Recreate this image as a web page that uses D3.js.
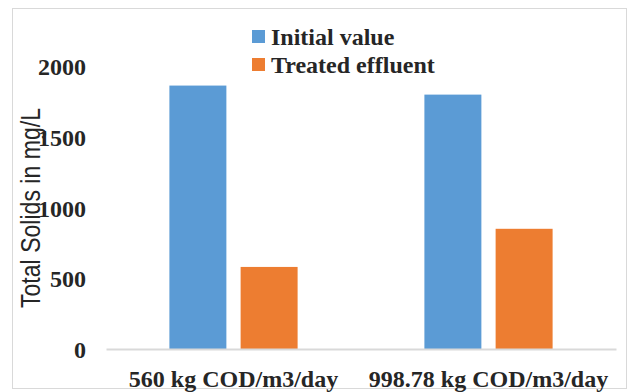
<!DOCTYPE html>
<html>
<head>
<meta charset="utf-8">
<script src="https://cdn.jsdelivr.net/npm/d3@7"></script>
<style>
  html, body { margin: 0; padding: 0; background: #fff; }
  svg { display: block; }
</style>
</head>
<body>
<svg id="chart" width="629" height="392"></svg>
<script>
// Loading rates compared
const categories = ["560 kg COD/m3/day", "998.78 kg COD/m3/day"];
// Total solids (mg/L) per series
const seriesNames = ["Initial value", "Treated effluent"];
const initialValue = [1865, 1801];
const treatedEffluent = [581, 851];
const yTicks = [0, 500, 1000, 1500, 2000];
const colors = ["#5B9BD5", "#ED7D31"];

const seriesValues = [initialValue, treatedEffluent];
const SERIF = '"Liberation Serif"';
const SANS = '"Liberation Sans"';

const svg = d3.select("#chart");
const W = 629, H = 392;

// outer frame
svg.append("rect")
  .attr("x", 12.5).attr("y", 8.5)
  .attr("width", W - 15).attr("height", H - 12)
  .attr("fill", "#fff").attr("stroke", "#d9d9d9").attr("stroke-width", 1);

const plot = { left: 106, right: 616, top: 66.5, bottom: 349 };

const y = d3.scaleLinear().domain([0, 2000]).range([plot.bottom, plot.top]);
const x0 = d3.scaleBand().domain(categories).range([plot.left, plot.right]).padding(0);
const x1 = d3.scaleBand().domain(seriesNames).range([0, x0.bandwidth()])
  .paddingInner(0.2).paddingOuter(0.89);

// y axis labels
const yAxis = d3.axisLeft(y).tickValues(yTicks).tickSize(0).tickPadding(0).tickFormat(d3.format("d"));
const gy = svg.append("g").attr("transform", "translate(86,0)").call(yAxis);
gy.select(".domain").remove();
gy.selectAll("text")
  .style("font-family", SERIF)
  .style("font-weight", "bold")
  .style("font-size", "24px")
  .attr("fill", "#262626")
  .attr("dy", "0.35em");

// bars
categories.forEach((c, i) => {
  seriesNames.forEach((s, j) => {
    const v = seriesValues[j][i];
    svg.append("rect")
      .attr("x", x0(c) + x1(s))
      .attr("y", y(v))
      .attr("width", x1.bandwidth())
      .attr("height", y(0) - y(v))
      .attr("fill", colors[j]);
  });
});

// category axis
const xAxis = d3.axisBottom(x0).tickSize(0).tickPadding(0);
const gx = svg.append("g").attr("transform", `translate(0,${plot.bottom})`).call(xAxis);
gx.select(".domain").attr("stroke", "#d9d9d9").attr("stroke-width", 2);
gx.selectAll("text")
  .style("font-family", SERIF)
  .style("font-weight", "bold")
  .style("font-size", "24px")
  .attr("fill", "#262626")
  .attr("y", 38)
  .attr("dy", 0);

// y axis title (condensed to fit the axis height)
svg.append("text")
  .attr("transform", "translate(40,208) rotate(-90)")
  .attr("text-anchor", "middle")
  .attr("textLength", 200)
  .attr("lengthAdjust", "spacingAndGlyphs")
  .style("font-family", SANS)
  .style("font-size", "27px")
  .attr("fill", "#262626")
  .text("Total Solids in mg/L");

// legend
const legend = svg.append("g");
seriesNames.forEach((s, j) => {
  const ly = 37 + j * 28;
  legend.append("rect")
    .attr("x", 252).attr("y", ly - 7)
    .attr("width", 13).attr("height", 13)
    .attr("fill", colors[j]);
  legend.append("text")
    .attr("x", 271).attr("y", ly)
    .attr("dy", "0.35em")
    .style("font-family", SERIF)
    .style("font-weight", "bold")
    .style("font-size", "24px")
    .attr("fill", "#262626")
    .text(s);
});
</script>
</body>
</html>
